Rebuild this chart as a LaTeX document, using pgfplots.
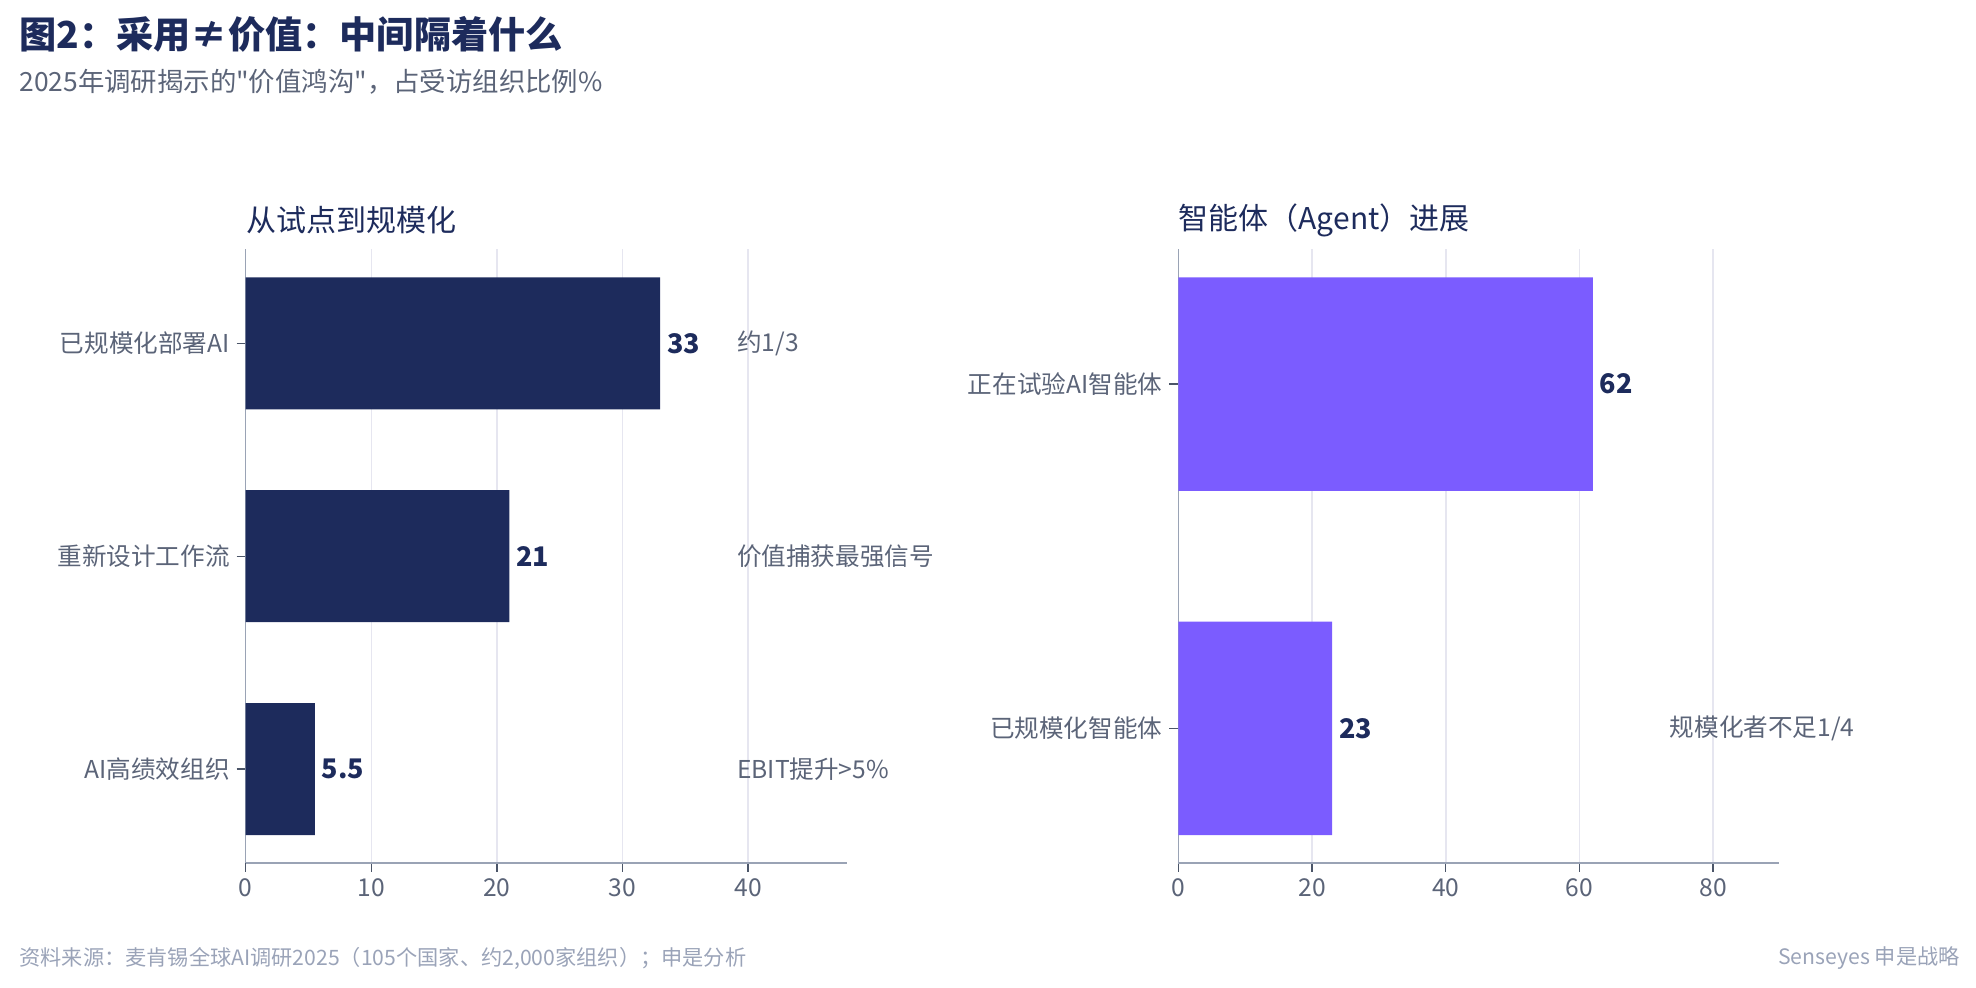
\documentclass[border=0pt]{standalone}
\usepackage{fontspec}
\setmainfont{Noto Sans CJK SC}[Ligatures=TeXOff]
\usepackage{pgfplots}
\pgfplotsset{compat=1.18}
\usepackage{pgfplotstable}

\definecolor{navy}{HTML}{1D2B5C}
\definecolor{violet}{HTML}{7B5CFF}
\definecolor{labelgray}{HTML}{5B6478}
\definecolor{footgray}{HTML}{9AA3B8}
\definecolor{spine}{HTML}{9AA3B5}
\definecolor{tickc}{HTML}{4B5568}
\definecolor{gridc}{HTML}{E6E6F0}

% y = bar position (bottom up), v = value
\pgfplotstableread{
y v
0 5.5
1 21
2 33
}\pilot
\pgfplotstableread{
y v
0 23
1 62
}\agent

\pgfplotsset{
  panel/.style={
    xbar, scale only axis,
    width=300.5pt, height=306.75pt,
    anchor=south west,
    axis x line*=bottom, axis y line*=left,
    x axis line style={draw=spine, line width=1.1pt},
    y axis line style={draw=spine, line width=0.6pt},
    tick align=outside, major tick length=4.5pt,
    tick style={draw=tickc, line width=0.7pt},
    xmajorgrids, ymajorgrids=false,
    major grid style={draw=gridc, line width=0.8pt},
    xmin=0, ytick=data,
    /pgf/number format/assume math mode=true,
    ticklabel style={font=\fontsize{12.3}{14}\selectfont, text=labelgray},
    bar width=0.62,
    point meta=x,
    nodes near coords,
    nodes near coords style={font=\fontsize{13.5}{15}\selectfont\bfseries, text=navy},
    clip=false,
  },
}
\tikzset{
  note/.style={anchor=west, inner sep=1pt, font=\fontsize{12.3}{14}\selectfont, text=labelgray},
  ptitle/.style={anchor=west, inner sep=0pt, yshift=14.5pt, font=\fontsize{15}{17}\selectfont, text=navy},
}

\begin{document}
\begin{tikzpicture}
\path[use as bounding box] (0,0) rectangle (988pt,494pt);

\node[anchor=west, inner sep=0pt, text=navy, font=\fontsize{18.6}{22}\selectfont\bfseries]
  at (9.5pt,477pt) {图2：采用≠价值：中间隔着什么};
\node[anchor=west, inner sep=0pt, text=labelgray, font=\fontsize{13.2}{15}\selectfont]
  at (9.5pt,453pt) {2025年调研揭示的"价值鸿沟"，占受访组织比例\%};

\begin{axis}[panel,
  at={(122.85pt,62.5pt)},
  xmax=47.85, ymin=-0.441, ymax=2.441,
  xtick={0,10,20,30,40},
  yticklabels={AI高绩效组织,重新设计工作流,已规模化部署AI},
]
\addplot[fill=navy, draw=none] table[x=v, y=y] {\pilot};
\node[ptitle] at (rel axis cs:0,1) {从试点到规模化};
\node[note] at (axis cs:38.94,2) {约1/3};
\node[note] at (axis cs:38.94,1) {价值捕获最强信号};
\node[note] at (axis cs:38.94,0) {EBIT提升>5\%};
\end{axis}

\begin{axis}[panel,
  at={(589.15pt,62.5pt)},
  xmax=89.9, ymin=-0.391, ymax=1.391,
  xtick={0,20,40,60,80},
  yticklabels={已规模化智能体,正在试验AI智能体},
]
\addplot[fill=violet, draw=none] table[x=v, y=y] {\agent};
\node[ptitle] at (rel axis cs:0,1) {智能体（Agent）进展};
\node[note] at (axis cs:73.16,0) {规模化者不足1/4};
\end{axis}

\node[anchor=west, inner sep=0pt, text=footgray, font=\fontsize{10.6}{12}\selectfont]
  at (9.5pt,15pt) {资料来源：麦肯锡全球AI调研2025（105个国家、约2,000家组织）；申是分析};
\node[anchor=east, inner sep=0pt, text=footgray, font=\fontsize{10.6}{12}\selectfont]
  at (980pt,15pt) {Senseyes 申是战略};
\end{tikzpicture}
\end{document}
